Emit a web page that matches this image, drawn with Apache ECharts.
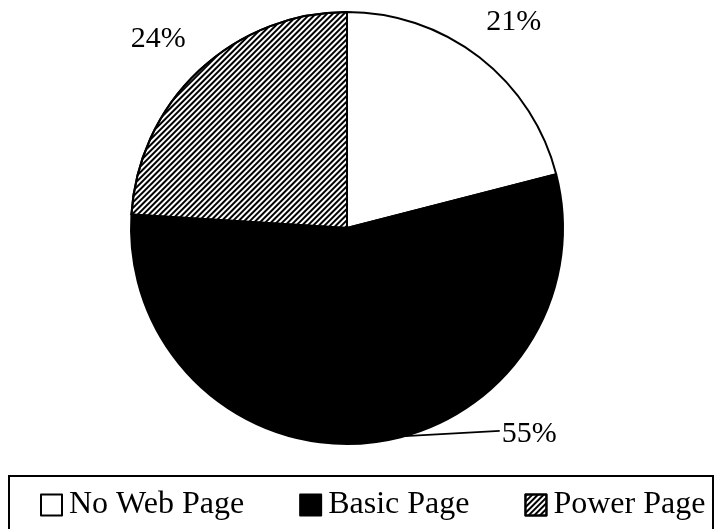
<!DOCTYPE html>
<html>
<head>
<meta charset="utf-8">
<script src="https://cdn.jsdelivr.net/npm/echarts@6/dist/echarts.min.js"></script>
<style>
  html, body { margin: 0; padding: 0; background: #fff; }
  #chart { width: 718px; height: 529px; }
</style>
</head>
<body>
<div id="chart"></div>
<script>
// Share of businesses by kind of web presence
const categories = ['No Web Page', 'Basic Page', 'Power Page'];
const shares = [21, 55, 24];

// Pie geometry and label placement (polar: degrees clockwise from 12 o'clock, radius in px)
const CENTER = [347, 228];
const RADIUS = 216;
const labelSpots = [
  { angle: 39, r: 265 },
  { angle: 138.5, r: 275 },
  { angle: 315, r: 267 }
];
const leaderStartAngle = 164.4; // where the 55% leader meets the rim

const FONT = '"Liberation Serif", "Times New Roman", serif';

function polar(angleDeg, r) {
  const a = angleDeg * Math.PI / 180;
  return [CENTER[0] + r * Math.sin(a), CENTER[1] - r * Math.cos(a)];
}

const sliceStyles = [
  { color: '#ffffff', borderColor: '#000', borderWidth: 2 },
  { color: '#000000', borderColor: '#000', borderWidth: 2 },
  {
    color: '#ffffff', borderColor: '#000', borderWidth: 2,
    decal: {
      symbol: 'rect',
      symbolSize: 1,
      color: '#000',
      dashArrayX: [1, 0],
      dashArrayY: [1.8, 1.8],
      rotation: -Math.PI / 4
    }
  }
];

const chart = echarts.init(document.getElementById('chart'), null, { renderer: 'canvas' });

chart.setOption({
  animation: false,
  backgroundColor: '#fff',
  graphic: [{
    type: 'rect',
    silent: true,
    shape: { x: 9, y: 476, width: 704, height: 80 },
    style: { fill: 'none', stroke: '#000', lineWidth: 2 }
  }],
  legend: {
    left: 40,
    top: 489,
    padding: 0,
    itemWidth: 21,
    itemHeight: 21,
    itemGap: 55,
    icon: 'rect',
    selectedMode: false,
    textStyle: { fontFamily: FONT, fontSize: 32, color: '#000', padding: [0, 0, 0, 2] },
    data: categories
  },
  series: [{
    type: 'pie',
    center: CENTER,
    radius: RADIUS,
    startAngle: 90,
    clockwise: true,
    avoidLabelOverlap: false,
    silent: true,
    emphasis: { disabled: true },
    label: {
      show: true,
      position: 'outside',
      formatter: p => p.value + '%',
      fontFamily: FONT,
      fontSize: 30,
      color: '#000'
    },
    labelLine: { show: false, lineStyle: { color: '#000', width: 1.8 } },
    labelLayout: function (params) {
      const i = params.dataIndex;
      const spot = labelSpots[i];
      const p = polar(spot.angle, spot.r);
      const out = { x: p[0], y: p[1], align: 'center', verticalAlign: 'middle' };
      if (i === 1) {
        const start = polar(leaderStartAngle, RADIUS);
        const w = params.labelRect.width;
        out.labelLinePoints = [start, [p[0] - w / 2 - 2, p[1] - 3], [p[0] - w / 2 - 2, p[1] - 3]];
      }
      return out;
    },
    data: categories.map((name, i) => ({
      name: name,
      value: shares[i],
      itemStyle: sliceStyles[i],
      labelLine: { show: i === 1 }
    }))
  }]
});
</script>
</body>
</html>
